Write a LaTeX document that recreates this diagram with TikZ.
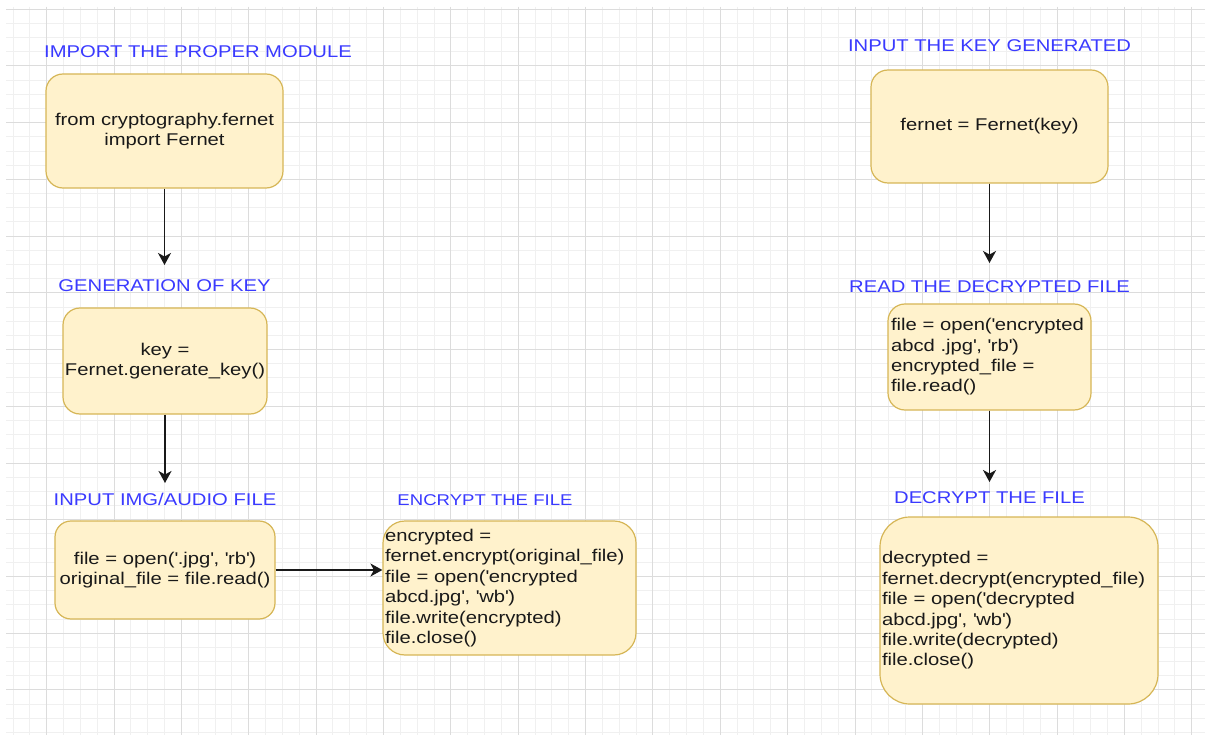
\documentclass[tikz,border=0pt]{standalone}
\usepackage{fontspec}
\setmainfont{Liberation Sans}[FakeStretch=1.19]
\usetikzlibrary{arrows.meta}
\definecolor{boxfill}{HTML}{FFF2CC}
\definecolor{boxline}{HTML}{D6B656}
\definecolor{lbl}{HTML}{3A3AFF}
\definecolor{gridminor}{HTML}{F0F0F0}
\definecolor{gridmajor}{HTML}{DCDCDC}
\newcommand{\bxfont}{\fontsize{17}{20.4}\selectfont}
\newcommand{\smfont}{\fontsize{15.6}{18.7}\selectfont}
\newcommand{\sq}{\textquotesingle}
\begin{document}
\begin{tikzpicture}[x=1pt,y=-1pt,
  boxnode/.style={draw=boxline, fill=boxfill, line width=1.2pt, rounded corners=17pt,
    text=black!90, font=\bxfont, inner sep=0pt, align=center},
  title/.style={text=lbl, font=\bxfont, anchor=base, inner sep=0pt},
  flow/.style={draw=black!90, line width=1.5pt, -{Stealth[length=12pt,width=13pt,inset=3.5pt]}}]
\fill[white] (0,0) rectangle (1205,735);
\useasboundingbox (0,0) rectangle (1205,735);
% grid
\begin{scope}
\clip (6,7) rectangle (1205,735);
\foreach \k in {-2,...,68} \draw[gridminor, line width=1pt] ({46.7+16.84*\k},7) -- ({46.7+16.84*\k},735);
\foreach \k in {-4,...,47} \draw[gridminor, line width=1pt] (6,{66+14.18*\k}) -- (1205,{66+14.18*\k});
\foreach \k in {0,...,17} \draw[gridmajor, line width=1pt] ({46.7+67.36*\k},7) -- ({46.7+67.36*\k},735);
\foreach \k in {-1,...,11} \draw[gridmajor, line width=1pt] (6,{66+56.72*\k}) -- (1205,{66+56.72*\k});
\end{scope}
% titles
\node[title] (t1) at (198,58) {IMPORT THE PROPER MODULE};
\node[title] (t2) at (164.5,292) {GENERATION OF KEY};
\node[title] (t3) at (165,505) {INPUT IMG/AUDIO FILE};
\node[title, font=\smfont] (t4) at (485,505) {ENCRYPT THE FILE};
\node[title] (t5) at (989.5,52) {INPUT THE KEY GENERATED};
\node[title] (t6) at (989.5,293) {READ THE DECRYPTED FILE};
\node[title] (t7) at (989.5,503) {DECRYPT THE FILE};
% boxes
\node[boxnode, minimum width=237pt, minimum height=114pt] (b1) at (164.5,131)
  {from cryptography.fernet\\import Fernet};
\node[boxnode, minimum width=204pt, minimum height=106pt] (b2) at (165,361)
  {key =\\Fernet.generate\_key()};
\node[boxnode, minimum width=220pt, minimum height=98pt, rounded corners=16pt] (b3) at (165,570)
  {file = open(\sq.jpg\sq, \sq rb\sq)\\original\_file = file.read()};
\node[boxnode, minimum height=134pt, text width=249pt, inner xsep=2pt, align=left, rounded corners=22pt] (b4) at (509.5,588)
  {encrypted =\\fernet.encrypt(original\_file)\\file = open(\sq encrypted\\abcd.jpg\sq, \sq wb\sq)\\file.write(encrypted)\\file.close()};
\node[boxnode, minimum width=237pt, minimum height=113pt] (b5) at (989.5,126.5)
  {fernet = Fernet(key)};
\node[boxnode, minimum height=106pt, text width=197pt, inner xsep=3pt, align=left] (b6) at (989.5,357)
  {file = open(\sq encrypted\\abcd .jpg\sq, \sq rb\sq)\\encrypted\_file =\\file.read()};
\node[boxnode, minimum height=187pt, text width=274pt, inner xsep=2pt, align=left, rounded corners=30pt] (b7) at (1019,610.5)
  {decrypted =\\fernet.decrypt(encrypted\_file)\\file = open(\sq decrypted\\abcd.jpg\sq, \sq wb\sq)\\file.write(decrypted)\\file.close()};
% arrow ends
\coordinate (e1) at (164.5,265);
\coordinate (e2) at (165,483);
\coordinate (e5) at (989.5,263);
\coordinate (e6) at (989.5,482);
% connectors
\draw[flow] (b1.south) -- (e1);
\draw[flow] (b2.south) -- (e2);
\draw[flow] (b5.south) -- (e5);
\draw[flow] (b6.south) -- (e6);
\draw[flow] (b3.east) -- (b3.east -| b4.west);
\end{tikzpicture}
\end{document}
